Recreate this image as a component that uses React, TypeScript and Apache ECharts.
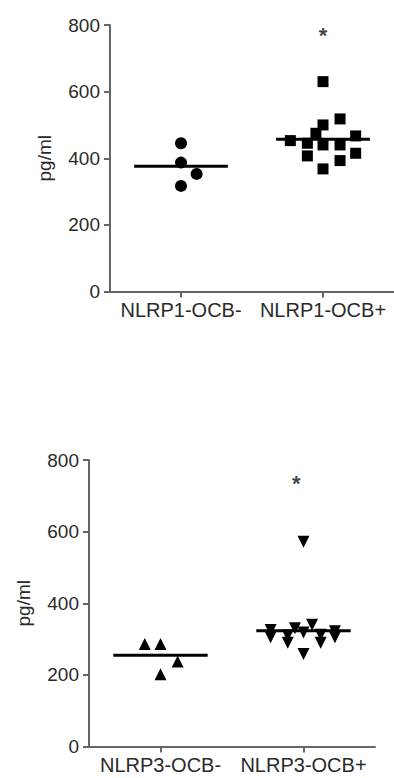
import React, { useEffect, useRef } from "react";
import * as echarts from "echarts";

const catsTop = ["NLRP1-OCB-", "NLRP1-OCB+"];
const catsBottom = ["NLRP3-OCB-", "NLRP3-OCB+"];
const yTicks = { min: 0, max: 800, interval: 200 };

const nlrp1Neg = [445, 387, 353, 317];
const nlrp1NegJitter = [0, 0, 0.11, 0];
const nlrp1Pos = [630, 518, 500, 475, 453, 467, 445, 407, 440, 440, 415, 393, 368];
const nlrp1PosJitter = [0, 0.12, 0, -0.05, -0.23, 0.23, -0.11, -0.11, 0, 0.12, 0.23, 0.12, 0];

const nlrp3Neg = [286, 286, 237, 202];
const nlrp3NegJitter = [-0.11, 0, 0.12, 0];
const nlrp3Pos = [572, 325, 305, 310, 290, 330, 318, 258, 340, 312, 290, 322, 305];
const nlrp3PosJitter = [0, -0.23, -0.23, -0.11, -0.11, -0.06, 0, 0, 0.06, 0.12, 0.12, 0.22, 0.22];

const meanTop = [376, 457];
const meanBottom = [255, 323];
const starTop = [1, 767];
const starBottom = [0.95, 733];

const FONT = "Liberation Sans, Arial, sans-serif";
const AXIS_COLOR = "#666";
const TEXT_COLOR = "#2a2a2a";

function pts(vals: number[], jit: number[], g: number) {
  return vals.map((v, i) => [g + jit[i], v]);
}

function meanLine(m: number, g: number) {
  return [
    [g - 0.33, m],
    [g + 0.33, m],
  ];
}

export default function App() {
  const ref = useRef<HTMLDivElement>(null);
  useEffect(() => {
    if (!ref.current) return;
    const chart = echarts.init(ref.current, null, { renderer: "svg" });

    const catAxis = (grid: number, data: string[]) => ({
      type: "category",
      gridIndex: grid,
      data,
      boundaryGap: true,
      axisLine: { show: true, onZero: false, lineStyle: { color: AXIS_COLOR, width: 2 } },
      axisTick: { show: true, alignWithLabel: true, length: 6, lineStyle: { color: AXIS_COLOR, width: 2 } },
      axisLabel: { interval: 0, fontSize: 20, color: TEXT_COLOR, margin: 8, fontFamily: FONT },
      splitLine: { show: false },
    });
    const valX = (grid: number) => ({
      type: "value",
      gridIndex: grid,
      min: -0.5,
      max: 1.5,
      show: false,
    });
    const valY = (grid: number) => ({
      type: "value",
      gridIndex: grid,
      min: yTicks.min,
      max: yTicks.max,
      interval: yTicks.interval,
      name: "pg/ml",
      nameLocation: "middle",
      nameRotate: 90,
      nameGap: 56,
      nameTextStyle: { fontSize: 19, color: TEXT_COLOR, fontFamily: FONT },
      axisLine: { show: true, onZero: false, lineStyle: { color: AXIS_COLOR, width: 2 } },
      axisTick: { show: true, length: 6, lineStyle: { color: AXIS_COLOR, width: 2 } },
      axisLabel: { fontSize: 19, color: TEXT_COLOR, margin: 10, fontFamily: FONT },
      splitLine: { show: false },
    });

    const scatter = (xi: number, yi: number, data: number[][], symbol: string, size: number, rotate = 0) => ({
      type: "scatter",
      xAxisIndex: xi,
      yAxisIndex: yi,
      data,
      symbol,
      symbolSize: size,
      symbolRotate: rotate,
      itemStyle: { color: "#000", opacity: 1 },
      silent: true,
    });
    const line = (xi: number, yi: number, data: number[][]) => ({
      type: "line",
      xAxisIndex: xi,
      yAxisIndex: yi,
      data,
      symbol: "none",
      lineStyle: { color: "#000", width: 3 },
      silent: true,
    });
    const star = (xi: number, yi: number, p: number[]) => ({
      type: "scatter",
      xAxisIndex: xi,
      yAxisIndex: yi,
      data: [p],
      symbolSize: 1,
      itemStyle: { color: "rgba(0,0,0,0)" },
      label: {
        show: true,
        position: "inside",
        formatter: "*",
        fontSize: 22,
        fontWeight: "bold",
        color: "#111",
        fontFamily: FONT,
      },
      silent: true,
    });

    chart.setOption({
      animation: false,
      backgroundColor: "#fff",
      grid: [
        { left: 110, top: 25, right: 0, height: 266.5 },
        { left: 89, top: 460, right: 19, height: 286.5 },
      ],
      xAxis: [catAxis(0, catsTop), valX(0), catAxis(1, catsBottom), valX(1)],
      yAxis: [valY(0), valY(1)],
      series: [
        scatter(1, 0, pts(nlrp1Neg, nlrp1NegJitter, 0), "circle", 12),
        scatter(1, 0, pts(nlrp1Pos, nlrp1PosJitter, 1), "rect", 11),
        line(1, 0, meanLine(meanTop[0], 0)),
        line(1, 0, meanLine(meanTop[1], 1)),
        star(1, 0, starTop),
        scatter(3, 1, pts(nlrp3Neg, nlrp3NegJitter, 0), "triangle", 12),
        scatter(3, 1, pts(nlrp3Pos, nlrp3PosJitter, 1), "triangle", 12, 180),
        line(3, 1, meanLine(meanBottom[0], 0)),
        line(3, 1, meanLine(meanBottom[1], 1)),
        star(3, 1, starBottom),
      ],
    });
    return () => chart.dispose();
  }, []);
  return (
    <div
      ref={ref}
      style={{ position: "absolute", left: 0, top: 0, width: 394, height: 778, background: "#fff" }}
    />
  );
}
